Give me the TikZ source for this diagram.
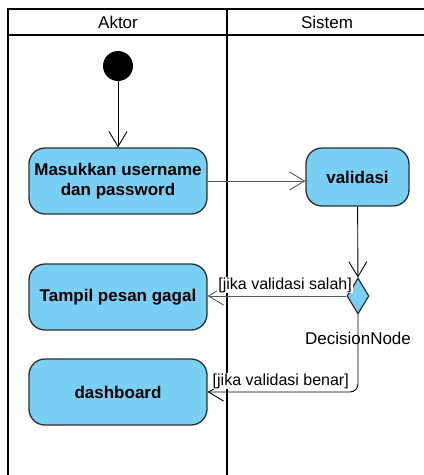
\documentclass[tikz,border=0pt]{standalone}
\usepackage{fontspec}
\setmainfont{Liberation Sans}
\usetikzlibrary{arrows.meta,shapes.geometric,positioning}
\definecolor{actfill}{HTML}{79CFF4}
\definecolor{actline}{HTML}{2E2E2E}
\tikzset{
  activity/.style={draw=actline, fill=actfill, line width=1.3pt, rounded corners=16pt,
    minimum width=178pt, minimum height=66pt, align=center,
    font=\bfseries\fontsize{17}{20}\selectfont},
  flow/.style={line width=0.9pt, -{Straight Barb[length=15pt,width=18pt]}},
  guard/.style={fill=white, inner sep=1pt, font=\fontsize{16}{18}\selectfont},
  lane/.style={line width=2.8pt},
}
\begin{document}
\begin{tikzpicture}[x=1pt,y=-1pt]
  \useasboundingbox (0,0) rectangle (424,475);
  %% swimlanes
  \draw[lane] (8,480) -- (8,9) -- (430,9);
  \draw[lane] (8,35) -- (430,35);
  \draw[lane] (227,9) -- (227,480);
  \node[font=\fontsize{17}{20}\selectfont] (aktor) at (118,22) {Aktor};
  \node[font=\fontsize{17}{20}\selectfont] (sistem) at (327,22) {Sistem};
  %% activities
  \node[circle, fill=black, minimum size=30pt, inner sep=0pt] (start) at (118,66) {};
  \node[activity] (input) at (118,181) {Masukkan username\\dan password};
  \node[activity, minimum width=103pt, minimum height=58pt] (validasi) at (357.5,177) {validasi};
  \node[activity] (gagal) at (118,297) {Tampil pesan gagal};
  \node[activity] (dashboard) at (118,392) {dashboard};
  \node[diamond, draw=actline, fill=actfill, line width=1.2pt, minimum width=22pt,
    minimum height=36pt, inner sep=0pt] (decision) at (358,296) {};
  \node[font=\fontsize{17}{20}\selectfont] (declabel) at (358,338) {DecisionNode};
  %% flows
  \draw[flow] (start) -- (input);
  \draw[flow, draw=black!65] (input.east) -- (input.east -| validasi.west);
  \draw[flow] (validasi) -- (decision);
  \draw[flow, draw=black!65] (decision.west) -- (decision.west -| gagal.east);
  \draw[flow, rounded corners=8pt] (decision.south) |- (dashboard.east);
  %% guards
  \node[guard, anchor=east] (salah) at (353,285) {[jika validasi salah]};
  \node[guard, anchor=east] (benar) at (350,381) {[jika validasi benar]};
\end{tikzpicture}
\end{document}
